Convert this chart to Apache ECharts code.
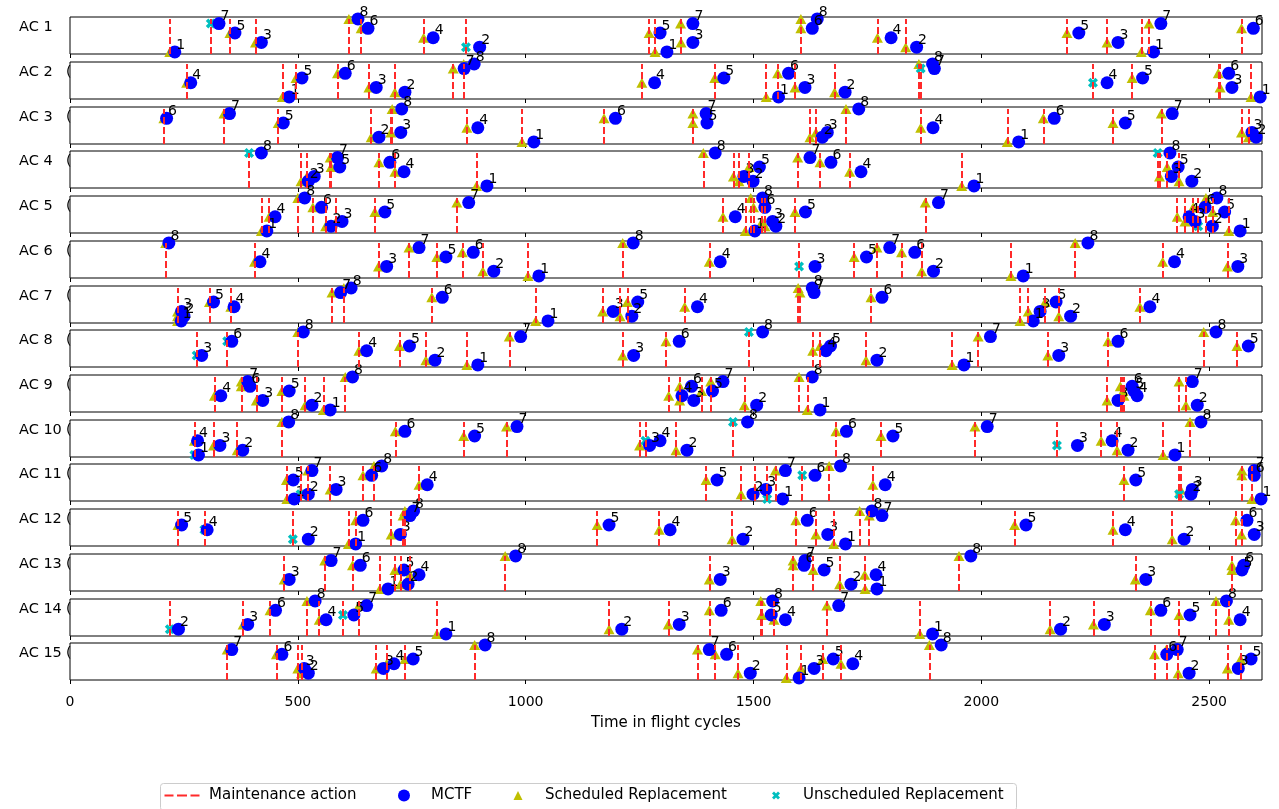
<!DOCTYPE html>
<html>
<head>
<meta charset="utf-8">
<script src="https://cdn.jsdelivr.net/npm/echarts@6/dist/echarts.min.js"></script>
<style>html,body{margin:0;padding:0;background:#fff}#c{width:1279px;height:809px}</style>
</head>
<body>
<div id="c"></div>
<script>
// Each event: [maintenance time, component, 'S' scheduled | 'U' unscheduled, MCTF time]
const AC1 = [[219,1,'S',230],[309,7,'U',327],[351,5,'S',362],[407,3,'S',420],[612,8,'S',632],[639,6,'S',654],[776,4,'S',797],[869,2,'U',899],[1271,5,'S',1295],[1284,1,'S',1310],[1340,7,'S',1367],[1341,3,'S',1367],[1604,8,'S',1640],[1604,6,'S',1629],[1772,4,'S',1802],[1834,2,'S',1858],[2188,5,'S',2214],[2276,3,'S',2300],[2351,1,'S',2378],[2368,7,'S',2394],[2571,6,'S',2597]];
const AC2 = [[256,4,'S',265],[466,1,'S',481],[496,5,'S',509],[587,6,'S',604],[656,3,'S',672],[713,2,'S',735],[841,7,'S',865],[864,8,'S',887],[1255,4,'S',1283],[1415,5,'S',1435],[1528,1,'S',1555],[1553,6,'S',1577],[1591,3,'S',1613],[1678,2,'S',1701],[1863,8,'S',1893],[1867,7,'U',1897],[2245,4,'U',2276],[2331,5,'S',2354],[2520,6,'S',2543],[2524,3,'S',2550],[2592,1,'S',2612]];
const AC3 = [[206,6,'S',212],[338,7,'S',350],[457,5,'S',468],[661,2,'S',678],[704,3,'S',726],[707,8,'S',728],[871,4,'S',895],[992,1,'S',1018],[1172,6,'S',1197],[1367,7,'S',1396],[1367,5,'S',1398],[1624,2,'S',1651],[1637,3,'S',1662],[1703,8,'S',1731],[1867,4,'S',1894],[2057,1,'S',2082],[2136,6,'S',2160],[2289,5,'S',2316],[2395,7,'S',2419],[2571,3,'S',2594],[2586,2,'S',2603]];
const AC4 = [[393,8,'U',420],[507,2,'S',523],[520,3,'S',536],[571,7,'S',587],[573,5,'S',592],[678,6,'S',702],[713,4,'S',733],[892,1,'S',915],[1390,8,'S',1416],[1456,3,'S',1479],[1468,2,'S',1499],[1490,5,'S',1513],[1597,7,'S',1624],[1646,6,'S',1670],[1711,4,'S',1736],[1957,1,'S',1984],[2387,8,'U',2414],[2391,3,'S',2417],[2408,5,'S',2432],[2434,2,'S',2462]];
const AC5 = [[420,1,'S',432],[437,4,'S',450],[500,8,'S',515],[533,6,'S',552],[561,2,'S',573],[584,3,'S',597],[669,5,'S',691],[849,7,'S',875],[1433,4,'S',1460],[1482,1,'S',1503],[1494,8,'S',1520],[1500,6,'S',1525],[1519,3,'S',1542],[1525,2,'S',1549],[1591,5,'S',1614],[1877,7,'S',1906],[2430,4,'S',2456],[2447,3,'S',2469],[2465,6,'S',2491],[2476,2,'U',2507],[2493,8,'S',2517],[2508,5,'S',2534],[2543,1,'S',2568]];
const AC6 = [[210,8,'S',217],[405,4,'S',417],[677,3,'S',695],[744,7,'S',766],[805,5,'S',825],[861,6,'S',885],[906,2,'S',930],[1005,1,'S',1029],[1213,8,'S',1236],[1403,4,'S',1427],[1600,3,'U',1635],[1721,5,'S',1748],[1771,7,'S',1799],[1825,6,'S',1854],[1869,2,'S',1895],[2065,1,'S',2092],[2206,8,'S',2234],[2398,4,'S',2424],[2540,3,'S',2563]];
const AC7 = [[236,3,'S',245],[236,2,'S',250],[236,1,'S',244],[306,5,'S',315],[353,4,'S',360],[575,7,'S',594],[601,8,'S',617],[794,6,'S',817],[1022,1,'S',1049],[1169,3,'S',1192],[1207,2,'S',1233],[1223,5,'S',1246],[1349,4,'S',1377],[1598,8,'S',1629],[1602,7,'S',1633],[1758,6,'S',1782],[2085,1,'S',2114],[2103,3,'S',2129],[2140,5,'S',2164],[2170,2,'S',2196],[2348,4,'S',2370]];
const AC8 = [[278,3,'U',289],[345,6,'U',355],[500,8,'S',512],[634,4,'S',651],[723,5,'S',745],[781,2,'S',801],[871,1,'S',895],[964,7,'S',989],[1213,3,'S',1237],[1308,6,'S',1337],[1490,8,'U',1520],[1630,4,'S',1659],[1646,5,'S',1669],[1747,2,'S',1771],[1936,1,'S',1962],[1993,7,'S',2020],[2146,3,'S',2170],[2278,6,'S',2300],[2488,8,'S',2515],[2561,5,'S',2586]];
const AC9 = [[317,4,'S',331],[376,7,'S',390],[376,6,'S',395],[409,3,'S',423],[465,5,'S',481],[516,2,'S',531],[556,1,'S',571],[604,8,'S',620],[1314,4,'S',1343],[1338,6,'S',1364],[1338,3,'S',1369],[1386,5,'S',1410],[1406,7,'S',1433],[1480,2,'S',1507],[1600,8,'S',1629],[1618,1,'S',1646],[2276,3,'S',2300],[2305,6,'S',2331],[2311,5,'S',2335],[2313,4,'S',2342],[2434,7,'S',2463],[2449,2,'S',2474]];
const AC10 = [[273,4,'S',280],[273,1,'U',282],[315,3,'S',329],[367,2,'S',379],[465,8,'S',480],[714,6,'S',735],[864,5,'S',888],[958,7,'S',981],[1250,3,'S',1272],[1263,4,'U',1295],[1330,2,'S',1354],[1455,8,'U',1487],[1681,6,'S',1704],[1780,5,'S',1806],[1986,7,'S',2013],[2166,3,'U',2211],[2263,4,'S',2287],[2298,2,'S',2322],[2399,1,'S',2425],[2458,8,'S',2482]];
const AC11 = [[475,5,'S',490],[476,1,'S',492],[506,2,'U',523],[522,7,'S',531],[571,3,'S',584],[643,6,'S',662],[667,8,'S',684],[766,4,'S',784],[1396,5,'S',1420],[1473,2,'S',1499],[1503,3,'S',1527],[1530,1,'U',1564],[1548,7,'S',1570],[1607,6,'U',1635],[1666,8,'S',1691],[1762,4,'S',1789],[2313,5,'S',2339],[2437,3,'S',2463],[2434,2,'U',2460],[2572,7,'S',2599],[2572,6,'S',2599],[2594,1,'S',2614]];
const AC12 = [[237,5,'S',245],[295,4,'U',301],[489,2,'U',523],[611,1,'S',627],[627,6,'S',643],[705,3,'S',725],[731,7,'S',746],[735,8,'S',754],[1157,5,'S',1183],[1293,4,'S',1317],[1453,2,'S',1477],[1593,6,'S',1618],[1637,3,'S',1663],[1676,1,'S',1702],[1733,8,'S',1760],[1754,7,'S',1782],[2073,5,'S',2098],[2289,4,'S',2316],[2419,2,'S',2445],[2558,6,'S',2583],[2571,3,'S',2599]];
const AC13 = [[470,3,'S',481],[559,7,'S',573],[620,6,'S',637],[680,1,'S',698],[713,5,'S',733],[725,2,'S',742],[746,4,'S',766],[955,8,'S',978],[1403,3,'S',1427],[1587,7,'S',1613],[1587,6,'S',1611],[1631,5,'S',1655],[1689,2,'S',1714],[1744,4,'S',1769],[1745,1,'S',1771],[1951,8,'S',1977],[2338,3,'S',2361],[2550,6,'S',2576],[2550,5,'S',2572]];
const AC14 = [[219,2,'U',238],[380,3,'S',390],[439,6,'S',451],[520,8,'S',538],[547,4,'S',562],[599,5,'U',623],[634,7,'S',651],[805,1,'S',825],[1183,2,'S',1211],[1313,3,'S',1337],[1403,6,'S',1429],[1516,8,'S',1542],[1518,5,'S',1539],[1545,4,'S',1570],[1661,7,'S',1687],[1865,1,'S',1893],[2151,2,'S',2174],[2246,3,'S',2270],[2371,6,'S',2394],[2434,5,'S',2458],[2515,8,'S',2538],[2543,4,'S',2568]];
const AC15 = [[345,7,'S',355],[453,6,'S',465],[500,3,'S',514],[508,2,'S',523],[672,3,'S',688],[695,4,'S',711],[735,5,'S',753],[888,8,'S',911],[1377,7,'S',1403],[1416,6,'S',1441],[1466,2,'S',1493],[1572,1,'S',1600],[1604,3,'S',1633],[1652,5,'S',1675],[1692,4,'S',1718],[1886,8,'S',1912],[2380,6,'S',2407],[2406,7,'S',2430],[2432,2,'S',2456],[2540,3,'S',2564],[2569,5,'S',2592]];

const AIRCRAFT = ['AC 1','AC 2','AC 3','AC 4','AC 5','AC 6','AC 7','AC 8','AC 9','AC 10','AC 11','AC 12','AC 13','AC 14','AC 15'];
const EVENTS = [AC1,AC2,AC3,AC4,AC5,AC6,AC7,AC8,AC9,AC10,AC11,AC12,AC13,AC14,AC15];
const X_TICKS = [0,500,1000,1500,2000,2500];
const X_MAX = 2616;
const Y_MIN = 0.55, Y_MAX = 8.4, LINE_TOP = 8;
const LEGEND_NAMES = ['Maintenance action','MCTF','Scheduled Replacement','Unscheduled Replacement'];

const RED = '#ff2a2a', BLUE = '#0000ff', OLIVE = '#bfbf00', CYAN = '#00bfbf';
const FONT = 'DejaVu Sans';
const XPATH = 'path://M0,0.25 L0.25,0 L0.5,0.25 L0.75,0 L1,0.25 L0.75,0.5 L1,0.75 L0.75,1 L0.5,0.75 L0.25,1 L0,0.75 L0.25,0.5 Z';
const LINE_ICON = 'path://M0,0 M44,12 M4.5,5h9v2h-9z M17,5h10v2h-10z M30.5,5h9v2h-9z';
const TRI_ICON = 'path://M0,0 M12,12 M6,1.5 L10.5,10.5 L1.5,10.5 Z';
const X_ICON = 'path://M0,0 M12,12 M2,4 L4,2 L6,4 L8,2 L10,4 L8,6 L10,8 L8,10 L6,8 L4,10 L2,8 L4,6 Z';
const LEGEND_ICONS = [LINE_ICON, 'circle', TRI_ICON, X_ICON];
const LEGEND_LEFTS = [160, 398, 512, 770];

const chart = echarts.init(document.getElementById('c'));
const grids = [], xAxes = [], yAxes = [], series = [], graphics = [];
const TOP0 = 17.3, PITCH = 44.71, PH = 37;

EVENTS.forEach((ev, i) => {
  const top = Math.round(TOP0 + i * PITCH);
  const last = i === EVENTS.length - 1;
  grids.push({left: 70, right: 17, top: top, height: PH, show: true, borderColor: '#000', borderWidth: 1, backgroundColor: 'transparent'});
  xAxes.push({
    type: 'value', gridIndex: i, min: 0, max: X_MAX,
    axisLine: {show: false},
    axisTick: {show: true, length: 4, lineStyle: {color: '#000', width: 1}, customValues: X_TICKS},
    axisLabel: {show: last, fontSize: 14, color: '#000', fontFamily: FONT, margin: 15, customValues: X_TICKS,
      formatter: v => String(v)},
    splitLine: {show: false},
    name: last ? 'Time in flight cycles' : '',
    nameLocation: 'middle', nameGap: 36,
    nameTextStyle: {fontSize: 15, color: '#000', fontFamily: FONT}
  });
  yAxes.push({type: 'value', gridIndex: i, min: Y_MIN, max: Y_MAX, show: false});

  const times = [...new Set(ev.map(e => e[0]))];
  series.push({
    type: 'line', name: LEGEND_NAMES[0], xAxisIndex: i, yAxisIndex: i, data: [], symbol: 'none',
    lineStyle: {color: RED, type: [7, 3], width: 2}, itemStyle: {color: RED}, z: 2,
    markLine: {
      silent: true, symbol: ['none', 'none'], label: {show: false}, animation: false,
      lineStyle: {color: RED, type: [7, 3], width: 2},
      emphasis: {disabled: true},
      data: times.map(t => [{coord: [t, Y_MIN]}, {coord: [t, LINE_TOP]}])
    }
  });
  series.push({
    type: 'scatter', name: LEGEND_NAMES[2], xAxisIndex: i, yAxisIndex: i, z: 3,
    symbol: 'triangle', symbolSize: [11, 10], itemStyle: {color: OLIVE, opacity: 1},
    data: ev.filter(e => e[2] === 'S').map(e => [e[0], e[1]])
  });
  series.push({
    type: 'scatter', name: LEGEND_NAMES[3], xAxisIndex: i, yAxisIndex: i, z: 3,
    symbol: XPATH, symbolSize: 10, itemStyle: {color: CYAN, opacity: 1},
    data: ev.filter(e => e[2] === 'U').map(e => [e[0], e[1]])
  });
  series.push({
    type: 'scatter', name: LEGEND_NAMES[1], xAxisIndex: i, yAxisIndex: i, z: 4,
    symbol: 'circle', symbolSize: 13, itemStyle: {color: BLUE, opacity: 1},
    label: {show: true, position: [8, 6.5], align: 'left', verticalAlign: 'bottom',
      formatter: p => String(p.value[1]), fontSize: 14, color: '#000', fontFamily: FONT},
    data: ev.map(e => [e[3], e[1]])
  });

  graphics.push({type: 'text', x: 19, y: top + 10, silent: true,
    style: {text: AIRCRAFT[i], fill: '#000', font: '14.5px "DejaVu Sans"', align: 'left', verticalAlign: 'middle'}});
  if (i > 0) {
    graphics.push({type: 'text', x: 66, y: top + 10, silent: true,
      style: {text: '(', fill: '#000', font: '14px "DejaVu Sans"', align: 'left', verticalAlign: 'middle'}});
  }
});

// legend frame
graphics.push({type: 'rect', silent: true, z: 0,
  shape: {x: 160.5, y: 783.5, width: 856, height: 27, r: 3},
  style: {fill: '#fff', stroke: '#cccccc', lineWidth: 1}});

const legends = LEGEND_NAMES.map((name, k) => ({
  left: LEGEND_LEFTS[k], top: 788, selectedMode: false, z: 5,
  data: [{name: name, icon: LEGEND_ICONS[k], itemStyle: k === 0 ? {color: RED} : undefined}],
  itemWidth: 44, itemHeight: 12, padding: 0,
  textStyle: {fontSize: 15, color: '#000', fontFamily: FONT}
}));

chart.setOption({
  animation: false,
  grid: grids, xAxis: xAxes, yAxis: yAxes, series: series, graphic: graphics,
  legend: legends
});
</script>
</body>
</html>
